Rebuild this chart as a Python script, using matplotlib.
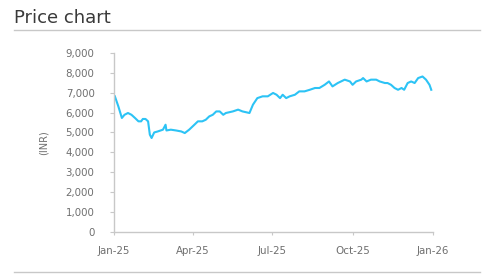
import matplotlib
matplotlib.use("Agg")
import matplotlib.pyplot as plt
import matplotlib.dates as mdates
import pandas as pd

dates = ["2025-01-02", "2025-01-06", "2025-01-10", "2025-01-13", "2025-01-17", "2025-01-21",
         "2025-01-25", "2025-01-29", "2025-02-01", "2025-02-03", "2025-02-06", "2025-02-09",
         "2025-02-11", "2025-02-13", "2025-02-16", "2025-02-20", "2025-02-26", "2025-03-01",
         "2025-03-02", "2025-03-07", "2025-03-13", "2025-03-19", "2025-03-23", "2025-03-28",
         "2025-04-03", "2025-04-07", "2025-04-12", "2025-04-16", "2025-04-20", "2025-04-24",
         "2025-04-28", "2025-05-02", "2025-05-06", "2025-05-09", "2025-05-17", "2025-05-23",
         "2025-05-28", "2025-06-05", "2025-06-09", "2025-06-14", "2025-06-20", "2025-06-26",
         "2025-07-02", "2025-07-06", "2025-07-10", "2025-07-13", "2025-07-17", "2025-07-21",
         "2025-07-27", "2025-08-01", "2025-08-07", "2025-08-13", "2025-08-19", "2025-08-24",
         "2025-08-30", "2025-09-04", "2025-09-08", "2025-09-14", "2025-09-22", "2025-09-28",
         "2025-10-01", "2025-10-05", "2025-10-11", "2025-10-13", "2025-10-17", "2025-10-22",
         "2025-10-28", "2025-11-01", "2025-11-07", "2025-11-10", "2025-11-14", "2025-11-18",
         "2025-11-22", "2025-11-26", "2025-11-29", "2025-12-03", "2025-12-07", "2025-12-11",
         "2025-12-15", "2025-12-20", "2025-12-24", "2025-12-28", "2025-12-30"]
prices = [6820, 6310, 5730, 5890, 5980, 5890,
          5730, 5560, 5560, 5680, 5680, 5560,
          4890, 4720, 5000, 5050, 5140, 5390,
          5100, 5140, 5100, 5050, 4970, 5140,
          5390, 5560, 5560, 5640, 5810, 5890,
          6060, 6060, 5890, 5980, 6060, 6150,
          6060, 5980, 6400, 6730, 6820, 6820,
          6990, 6900, 6730, 6900, 6730, 6820,
          6900, 7070, 7070, 7150, 7240, 7240,
          7400, 7570, 7320, 7490, 7660, 7570,
          7400, 7570, 7660, 7740, 7570, 7660,
          7660, 7570, 7490, 7490, 7400, 7240,
          7150, 7240, 7150, 7490, 7570, 7490,
          7740, 7820, 7660, 7400, 7150]
tick_dates = ["2025-01-01", "2025-04-01", "2025-07-01", "2025-10-01", "2026-01-01"]
y_ticks = [0, 1000, 2000, 3000, 4000, 5000, 6000, 7000, 8000, 9000]

plt.rcParams['font.family'] = ['DejaVu Sans']
fig = plt.figure(figsize=(5, 2.8), dpi=100)
fig.patch.set_facecolor("white")

ax = fig.add_axes([0.228, 0.1725, 0.638, 0.638])
x = pd.to_datetime(dates)
ax.plot(x, prices, color="#2CC3F5", lw=1.5)

ax.set_xlim(pd.Timestamp(tick_dates[0]), pd.Timestamp(tick_dates[-1]))
ax.set_ylim(0, 9000)
ax.set_yticks(y_ticks)
ax.set_yticklabels([f"{v:,}" for v in y_ticks])
ax.set_xticks(pd.to_datetime(tick_dates))
ax.xaxis.set_major_formatter(mdates.DateFormatter("%b-%y"))

for s in ["top", "right"]:
    ax.spines[s].set_visible(False)
for s in ["left", "bottom"]:
    ax.spines[s].set_color("#C8C8C8")
    ax.spines[s].set_linewidth(1.0)
ax.tick_params(axis="y", colors="#C8C8C8", length=3, pad=11, labelsize=7.4, labelcolor="#6F6F6F")
ax.tick_params(axis="x", colors="#C8C8C8", length=2, pad=8, labelsize=7.4, labelcolor="#6F6F6F")
ax.set_ylabel("(INR)", fontsize=7, color="#6F6F6F", labelpad=12)

fig.text(0.028, 0.935, "Price chart", fontsize=13, color="#3A3A3A", ha="left", va="center")
fig.add_artist(plt.Line2D([0.028, 0.96], [0.893, 0.893], color="#C8C8C8", lw=1.0, transform=fig.transFigure))
fig.add_artist(plt.Line2D([0.028, 0.96], [0.03, 0.03], color="#C8C8C8", lw=1.0, transform=fig.transFigure))

fig.savefig("out.png", dpi=100, facecolor="white")
